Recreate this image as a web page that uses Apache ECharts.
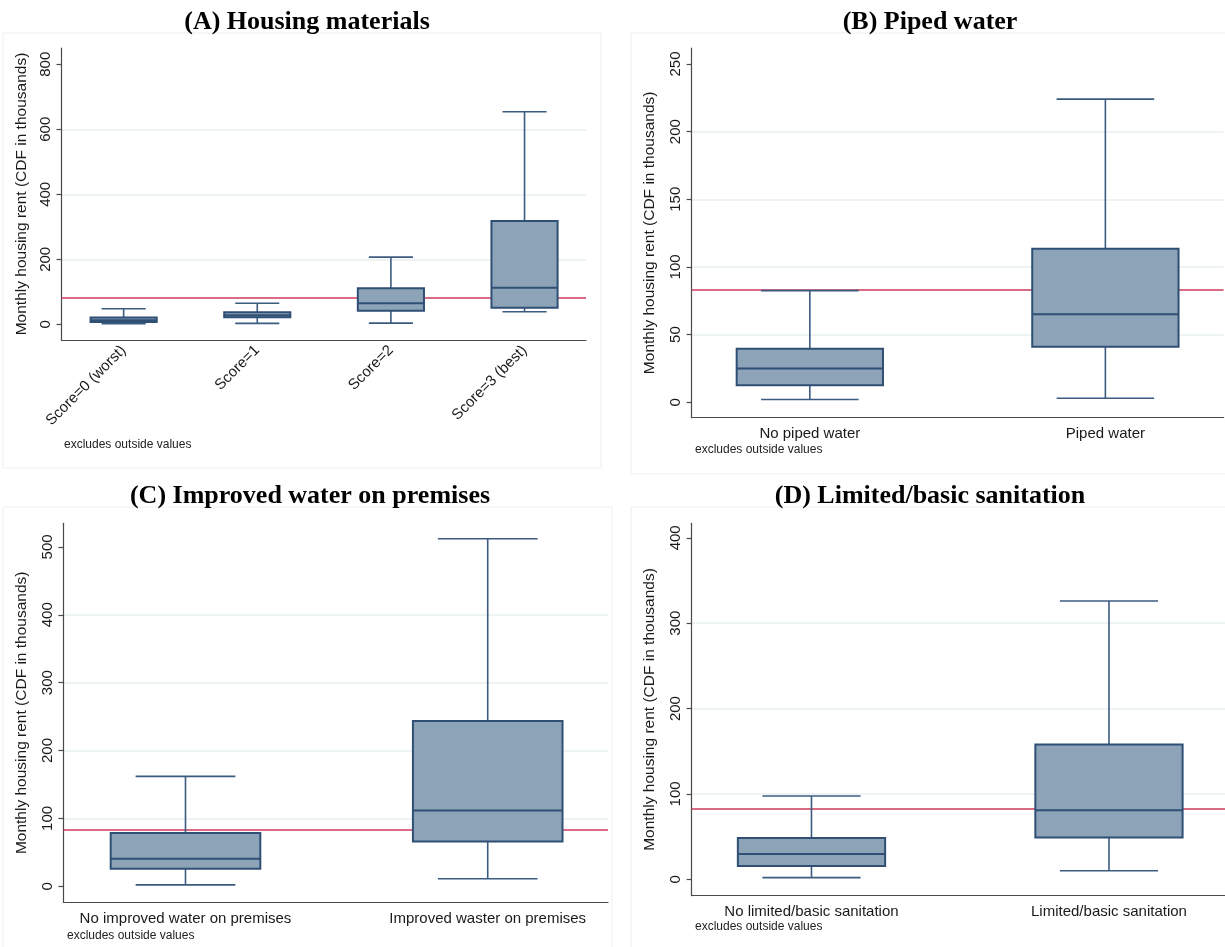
<!DOCTYPE html>
<html>
<head>
<meta charset="utf-8">
<script src="https://cdn.jsdelivr.net/npm/echarts@6/dist/echarts.min.js"></script>
<style>html,body{margin:0;padding:0;background:#fff;}#c{width:1225px;height:947px;}</style>
</head>
<body>
<div id="c"></div>
<script>
// ---- data ----
const titles = ['(A) Housing materials', '(B) Piped water', '(C) Improved water on premises', '(D) Limited/basic sanitation'];
const yName = 'Monthly housing rent (CDF in thousands)';
const note = 'excludes outside values';
const refValue = 83;

const catsA = ['Score=0 (worst)', 'Score=1', 'Score=2', 'Score=3 (best)'];
// [min, q1, median, q3, max]
const boxA = [[2, 7, 13, 21, 48], [3, 22, 28, 37, 65], [4, 42, 65, 111, 207], [39, 51, 113, 318, 654]];
const ticksA = [0, 200, 400, 600, 800];

const catsB = ['No piped water', 'Piped water'];
const boxB = [[2, 12.5, 25, 39.5, 82.5], [3, 41, 65, 113.5, 224]];
const ticksB = [0, 50, 100, 150, 200, 250];

const catsC = ['No improved water on premises', 'Improved waster on premises'];
const boxC = [[2, 26, 40.5, 78.5, 162], [11, 66, 111.5, 243.5, 512]];
const ticksC = [0, 100, 200, 300, 400, 500];

const catsD = ['No limited/basic sanitation', 'Limited/basic sanitation'];
const boxD = [[2, 15.5, 29.5, 48.5, 97.5], [10, 49, 81, 158, 326]];
const ticksD = [0, 100, 200, 300, 400];

// ---- layout / style ----
const SANS = 'Liberation Sans';
const SERIF = 'Liberation Serif';
const FILL = '#8ca3b8', EDGE = '#2f4f74', WHISK = '#3b5b80', REF = '#cc3a5c';
const GRIDC = '#e7eff1', AXC = '#4a4a4a';

const panels = [
  {cats: catsA, box: boxA, ticks: ticksA, grid: {left: 61.5, top: 48, width: 524.5, height: 292}, y: [-48, 850], x: [0.535, 4.46], rotate: 45, nameGap: 32, title: [302, 4], note: [64, 439]},
  {cats: catsB, box: boxB, ticks: ticksB, grid: {left: 691.6, top: 48, width: 532, height: 369.7}, y: [-11.4, 261.8], x: [0.6, 2.4], rotate: 0, nameGap: 34, title: [925, 4], note: [695, 444]},
  {cats: catsC, box: boxC, ticks: ticksC, grid: {left: 63.4, top: 523.3, width: 544.6, height: 379}, y: [-23.6, 534.8], x: [0.596, 2.398], rotate: 0, nameGap: 34, title: [305, 478], note: [67, 930]},
  {cats: catsD, box: boxD, ticks: ticksD, grid: {left: 691.6, top: 523.3, width: 533.4, height: 372.4}, y: [-19.2, 417], x: [0.597, 2.39], rotate: 0, nameGap: 34, title: [925, 478], note: [695, 921]}
];

function renderBox(params, api) {
  const x = api.value(0), mn = api.value(1), q1 = api.value(2), md = api.value(3), q3 = api.value(4), mx = api.value(5);
  const hb = 0.2475, hc = 0.165;
  const tl = api.coord([x - hb, q3]), br = api.coord([x + hb, q1]);
  const mL = api.coord([x - hb, md]), mR = api.coord([x + hb, md]);
  const cTop = api.coord([x, mx]), cBot = api.coord([x, mn]);
  const capL1 = api.coord([x - hc, mx]), capR1 = api.coord([x + hc, mx]);
  const capL0 = api.coord([x - hc, mn]), capR0 = api.coord([x + hc, mn]);
  const wStyle = {stroke: WHISK, lineWidth: 1.6};
  return {
    type: 'group',
    children: [
      {type: 'line', shape: {x1: cTop[0], y1: cTop[1], x2: cTop[0], y2: tl[1]}, style: wStyle},
      {type: 'line', shape: {x1: cBot[0], y1: br[1], x2: cBot[0], y2: cBot[1]}, style: wStyle},
      {type: 'line', shape: {x1: capL1[0], y1: capL1[1], x2: capR1[0], y2: capR1[1]}, style: wStyle},
      {type: 'line', shape: {x1: capL0[0], y1: capL0[1], x2: capR0[0], y2: capR0[1]}, style: wStyle},
      {type: 'rect', shape: {x: tl[0], y: tl[1], width: br[0] - tl[0], height: br[1] - tl[1]}, style: {fill: FILL, stroke: EDGE, lineWidth: 2}},
      {type: 'line', shape: {x1: mL[0], y1: mL[1], x2: mR[0], y2: mR[1]}, style: {stroke: EDGE, lineWidth: 2}}
    ]
  };
}

const option = {
  backgroundColor: '#ffffff',
  animation: false,
  title: panels.map((p, i) => ({
    text: titles[i], left: p.title[0], top: p.title[1], textAlign: 'center',
    textStyle: {fontFamily: SERIF, fontWeight: 'bold', fontSize: 26, color: '#000'}
  })),
  grid: panels.map(p => Object.assign({containLabel: false}, p.grid)),
  xAxis: panels.map((p, i) => ({
    type: 'value', gridIndex: i, min: p.x[0], max: p.x[1],
    axisLine: {show: true, onZero: false, lineStyle: {color: AXC, width: 1.2}},
    axisTick: {show: false},
    splitLine: {show: false},
    axisLabel: {
      customValues: p.cats.map((c, k) => k + 1),
      formatter: v => p.cats[Math.round(v) - 1] || '',
      rotate: p.rotate, margin: p.rotate ? 8 : 9,
      fontFamily: SANS, fontSize: 15, color: '#1a1a1a'
    }
  })),
  yAxis: panels.map((p, i) => ({
    type: 'value', gridIndex: i, min: p.y[0], max: p.y[1],
    name: yName, nameLocation: 'middle', nameRotate: 90, nameGap: p.nameGap,
    nameTextStyle: {fontFamily: SANS, fontSize: 15.5, color: '#1a1a1a'},
    axisLine: {show: true, lineStyle: {color: AXC, width: 1.2}},
    axisTick: {show: true, length: 5, customValues: p.ticks, lineStyle: {color: AXC, width: 1.2}},
    axisLabel: {customValues: p.ticks, rotate: 90, margin: 8, fontFamily: SANS, fontSize: 15, color: '#1a1a1a'},
    splitLine: {show: true, showMinLine: false, showMaxLine: false, lineStyle: {color: GRIDC, width: 1.5}}
  })),
  series: panels.map((p, i) => ({
    type: 'custom', xAxisIndex: i, yAxisIndex: i,
    renderItem: renderBox,
    encode: {x: 0, y: [1, 2, 3, 4, 5]},
    data: p.box.map((b, k) => [k + 1].concat(b)),
    z: 3,
    markLine: {
      silent: true, symbol: 'none', label: {show: false},
      lineStyle: {color: REF, width: 1.6, type: 'solid'},
      data: [{yAxis: refValue}],
      z: 2
    }
  })),
  graphic: [
    {type: 'rect', shape: {x: 3, y: 33, width: 598, height: 435}, style: {fill: 'none', stroke: '#efefef', lineWidth: 1}, z: -1},
    {type: 'rect', shape: {x: 631, y: 33, width: 600, height: 441}, style: {fill: 'none', stroke: '#efefef', lineWidth: 1}, z: -1},
    {type: 'rect', shape: {x: 3, y: 507, width: 609, height: 445}, style: {fill: 'none', stroke: '#efefef', lineWidth: 1}, z: -1},
    {type: 'rect', shape: {x: 631, y: 507, width: 600, height: 445}, style: {fill: 'none', stroke: '#efefef', lineWidth: 1}, z: -1}
  ].concat(panels.map(p => ({
    type: 'text', left: p.note[0], top: p.note[1],
    style: {text: note, fontFamily: SANS, fontSize: 12, fill: '#222'}
  })))
};

const chart = echarts.init(document.getElementById('c'), null, {renderer: 'canvas'});
chart.setOption(option);
</script>
</body>
</html>
